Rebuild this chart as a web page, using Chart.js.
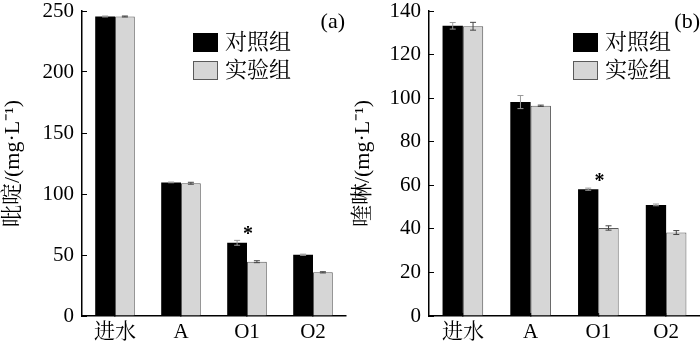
<!DOCTYPE html>
<html><head><meta charset="utf-8">
<script src="https://cdn.jsdelivr.net/npm/chart.js@4/dist/chart.umd.min.js"></script>
<style>
html,body{margin:0;padding:0;background:#fff;width:700px;height:345px;overflow:hidden}
.panel{position:absolute;top:0;width:350px;height:345px}
canvas{display:block}
</style></head><body>
<div class="panel" style="left:0"><canvas id="ca" width="350" height="345"></canvas></div>
<div class="panel" style="left:350px"><canvas id="cb" width="350" height="345"></canvas></div>
<script>
// Sampling points and series names
const categories = ['进水', 'A', 'O1', 'O2'];
const seriesNames = ['对照组', '实验组'];

// (a) pyridine, mg/L
const pyridineControl = [245.5, 109.5, 60.0, 50.2];
const pyridineTest    = [245.5, 108.8, 44.5, 35.8];
const pyridineControlErr = [0.4, 0.3, 2.0, 0.5];
const pyridineTestErr    = [0.4, 0.8, 0.8, 0.5];

// (b) quinoline, mg/L
const quinolineControl = [133.2, 98.2, 58.2, 51.0];
const quinolineTest    = [133.0, 96.5, 40.4, 38.3];
const quinolineControlErr = [1.5, 3.0, 0.5, 0.4];
const quinolineTestErr    = [1.8, 0.3, 1.0, 0.9];

// categories marked as significantly different
const significant = ['O1'];

const FONT = "'Liberation Serif', 'Noto Serif CJK SC', 'Noto Sans CJK SC', serif";

// whiskers for mean ± error on every bar
const errorBars = {
  id: 'errorBars',
  afterDatasetsDraw(chart, args, opts) {
    const ctx = chart.ctx, y = chart.scales.y;
    chart.data.datasets.forEach((ds, di) => {
      const meta = chart.getDatasetMeta(di);
      meta.data.forEach((bar, i) => {
        const v = ds.data[i], e = ds.errors[i];
        const top = y.getPixelForValue(v + e), bot = y.getPixelForValue(v - e);
        ctx.save();
        ctx.strokeStyle = ds.whiskerColor;
        ctx.lineWidth = 1;
        ctx.beginPath();
        ctx.moveTo(bar.x, top); ctx.lineTo(bar.x, bot);
        ctx.moveTo(bar.x - 3, top); ctx.lineTo(bar.x + 3, top);
        ctx.moveTo(bar.x - 3, bot); ctx.lineTo(bar.x + 3, bot);
        ctx.stroke();
        ctx.restore();
      });
    });
  }
};

// asterisk above significant categories, legend and panel tag
const annotations = {
  id: 'annotations',
  afterDraw(chart, args, opts) {
    const ctx = chart.ctx, x = chart.scales.x, y = chart.scales.y;
    const ds0 = chart.data.datasets[0];
    ctx.save();
    ctx.fillStyle = '#000';
    ctx.textAlign = 'center';
    ctx.textBaseline = 'middle';
    ctx.font = "bold 20px " + FONT;
    significant.forEach(c => {
      const i = chart.data.labels.indexOf(c);
      const px = x.getPixelForValue(i) + 1;
      const py = y.getPixelForValue(ds0.data[i] + ds0.errors[i]) - 10;
      ctx.fillText('*', px, py + 4);
    });
    // legend
    ctx.textAlign = 'left';
    ctx.font = "22px " + FONT;
    chart.data.datasets.forEach((ds, di) => {
      const bx = opts.legendX, by = opts.legendY + di * 28;
      ctx.fillStyle = ds.backgroundColor;
      ctx.fillRect(bx, by, 25, 19);
      if (ds.borderWidth) {
        ctx.strokeStyle = ds.borderColor;
        ctx.lineWidth = 1;
        ctx.strokeRect(bx + 0.5, by + 0.5, 24, 18);
      }
      ctx.fillStyle = '#000';
      ctx.fillText(ds.label, bx + 32, by + 10);
    });
    ctx.font = "22px " + FONT;
    ctx.textAlign = 'right';
    ctx.fillText(opts.tag, opts.tagX, 22);
    ctx.restore();
  }
};

function makeChart(id, control, test, cErr, tErr, maxY, step, title, axisW, tag, legendX, tagX, padRight) {
  return new Chart(document.getElementById(id), {
    type: 'bar',
    data: {
      labels: categories,
      datasets: [
        { label: seriesNames[0], data: control, errors: cErr, backgroundColor: '#000000',
          borderWidth: 0, whiskerColor: '#9a9a9a' },
        { label: seriesNames[1], data: test, errors: tErr, backgroundColor: '#d6d6d6',
          borderColor: '#5a5a5a', borderWidth: 1, whiskerColor: '#444444' }
      ]
    },
    options: {
      responsive: false,
      animation: false,
      devicePixelRatio: 1,
      categoryPercentage: 0.6,
      barPercentage: 1.0,
      layout: { padding: { top: 11, right: padRight, left: 0, bottom: 0 } },
      plugins: {
        legend: { display: false },
        tooltip: { enabled: false },
        annotations: { legendX: legendX, legendY: 33, tag: tag, tagX: tagX }
      },
      scales: {
        x: {
          offset: true,
          grid: { offset: false, drawOnChartArea: false, drawTicks: true, tickLength: -3, color: '#000', lineWidth: 1.5 },
          border: { color: '#000', width: 1.5 },
          ticks: { color: '#000', font: { family: FONT, size: 21 }, padding: 7 },
          afterFit(s) { s.height = 29; }
        },
        y: {
          min: 0, max: maxY,
          grid: { drawOnChartArea: false, drawTicks: true, tickLength: -5, color: '#000' },
          border: { color: '#000', width: 1.5 },
          ticks: { stepSize: step, color: '#000', font: { family: FONT, size: 21 }, padding: 13 },
          title: { display: true, text: title, color: '#000',
                   font: { family: FONT, size: 22 }, padding: 0 },
          afterFit(s) { s.width = axisW; s.paddingTop = 0; s.paddingBottom = 0; }
        }
      }
    },
    plugins: [errorBars, annotations]
  });
}

makeChart('ca', pyridineControl, pyridineTest, pyridineControlErr, pyridineTestErr,
  250, 50, '吡啶/(mg·L⁻¹)', 82, '(a)', 193, 345, 4);
makeChart('cb', quinolineControl, quinolineTest, quinolineControlErr, quinolineTestErr,
  140, 20, '喹啉/(mg·L⁻¹)', 79, '(b)', 223, 350, 0);
</script>
</body></html>
